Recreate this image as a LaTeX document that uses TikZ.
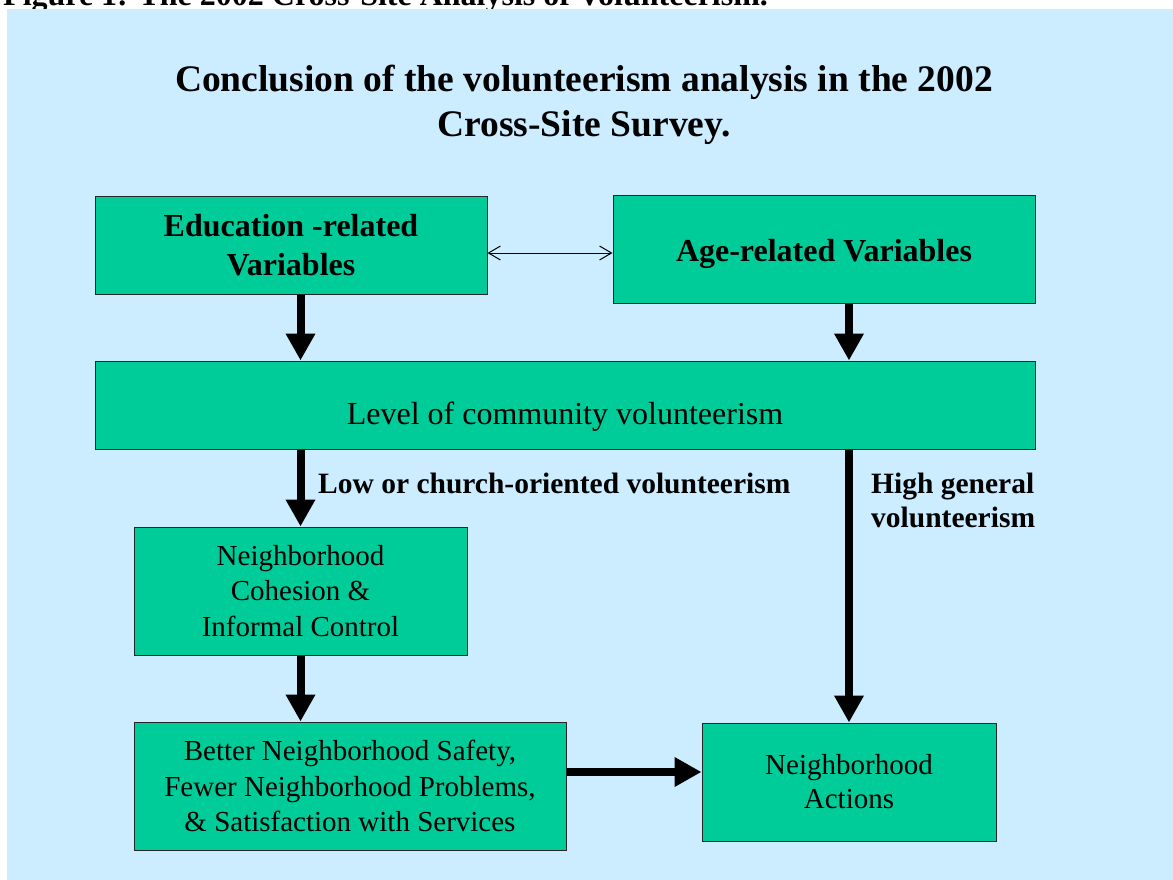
\documentclass[tikz,border=0pt]{standalone}
\usepackage{fontspec}
\setmainfont{Liberation Serif}
\usepackage{tikz}
\usetikzlibrary{arrows.meta}
\usepackage{xcolor}
\definecolor{bgblue}{RGB}{204,236,255}
\definecolor{boxgreen}{RGB}{0,204,153}

\begin{document}
\begin{tikzpicture}[x=1pt, y=-1pt]
        % 定义样式:绿色方框,细黑边
        \tikzstyle{gbox}=[rectangle, draw=black!85, line width=1pt, fill=boxgreen, inner sep=0pt, align=center]
        \tikzstyle{bigarrow}=[line width=8pt, -{Triangle[length=27pt, width=28pt]}]
        \tikzstyle{thinarrow}=[line width=1pt, {Straight Barb[length=12pt, width=14pt]}-{Straight Barb[length=12pt, width=14pt]}]
        \tikzstyle{lbl}=[inner sep=0pt, align=left, font=\bfseries\fontsize{29.5}{34}\selectfont]

        % 画布与背景
        \useasboundingbox (0,0) rectangle (1173,880);
        \clip (0,0) rectangle (1173,880);
        \fill[white] (0,0) rectangle (1173,880);
        \node[anchor=base west, inner sep=0pt, font=\bfseries\fontsize{32}{38}\selectfont] (cap) at (3,6) {Figure 1: The 2002 Cross-Site Analysis of Volunteerism.};
        \fill[bgblue] (7,9) rectangle (1173,880);

        % 标题
        \node[align=center, inner sep=0pt, font=\bfseries\fontsize{37.5}{45}\selectfont] (title) at (584,105) {Conclusion of the volunteerism analysis in the 2002\\Cross-Site Survey.};

        % 方框
        \node[gbox, minimum width=392, minimum height=98, font=\bfseries\fontsize{32}{39}\selectfont] (edu) at (291,245) {Education -related\\Variables};
        \node[gbox, minimum width=422, minimum height=108, text height=26pt, text depth=2pt, font=\bfseries\fontsize{32}{39}\selectfont] (age) at (824,249) {Age-related Variables};
        \node[gbox, minimum width=940, minimum height=88, text height=40pt, text depth=2pt, font=\fontsize{32}{39}\selectfont] (lvl) at (565,405) {Level of community volunteerism};
        \node[gbox, minimum width=333, minimum height=128, font=\fontsize{29}{35.5}\selectfont] (coh) at (300.5,591) {Neighborhood\\Cohesion \&\\Informal Control};
        \node[gbox, minimum width=432, minimum height=128, font=\fontsize{29}{35.5}\selectfont] (bet) at (350,786) {Better Neighborhood Safety,\\Fewer Neighborhood Problems,\\\& Satisfaction with Services};
        \node[gbox, minimum width=294, minimum height=118, font=\fontsize{29}{34}\selectfont] (act) at (849,782) {Neighborhood\\Actions};

        % 粗箭头:竖直方向
        \foreach \s/\t/\c in {edu.south/lvl.north/coh, age.south/lvl.north/act, lvl.south/coh.north/coh, lvl.south/act.north/act, coh.south/bet.north/coh} {
            \draw[bigarrow] (\s -| \c) -- (\t -| \c);
        }
        \draw[bigarrow] ([yshift=14pt]bet.east) -- ([yshift=14pt]bet.east -| act.west);

        % 细双向箭头
        \draw[thinarrow] ([yshift=-8pt]edu.east) -- ([yshift=-8pt]edu.east -| age.west);

        % 箭头旁文字
        \node[lbl, anchor=west] (lowlbl) at (318,483) {Low or church-oriented volunteerism};
        \node[lbl, anchor=west] (highlbl) at (871,500) {High general\\volunteerism};
    \end{tikzpicture}
\end{document}
